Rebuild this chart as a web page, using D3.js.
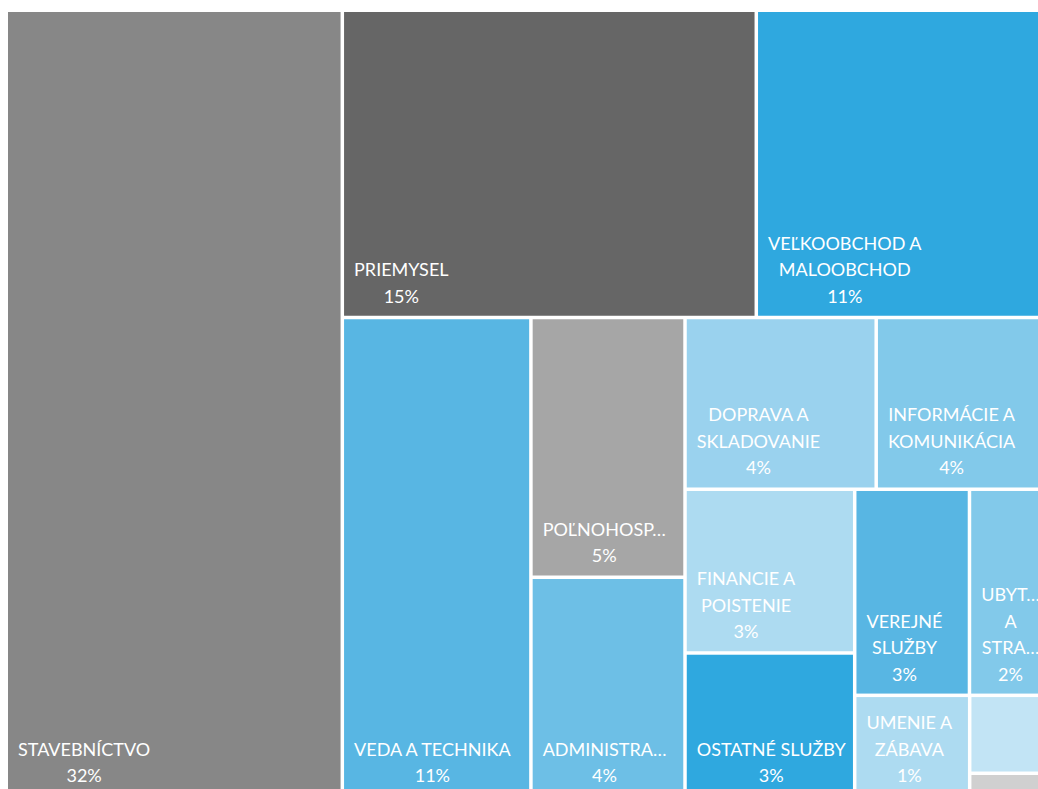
<!DOCTYPE html>
<html>
<head>
<meta charset="utf-8">
<script src="https://cdn.jsdelivr.net/npm/d3@7"></script>
<style>
  body { margin: 0; background: #fff; }
  svg { display: block; }
  text { font-family: Lato, "Open Sans", sans-serif; font-size: 18px; fill: #fff; }
</style>
</head>
<body>
<svg width="1038" height="789"></svg>
<script>
var sectors = ['STAVEBNÍCTVO', 'PRIEMYSEL', 'VEĽKOOBCHOD A MALOOBCHOD', 'VEDA A TECHNIKA',
	'POĽNOHOSPODÁRSTVO', 'ADMINISTRATÍVA', 'DOPRAVA A SKLADOVANIE', 'INFORMÁCIE A KOMUNIKÁCIA',
	'FINANCIE A POISTENIE', 'OSTATNÉ SLUŽBY', 'VEREJNÉ SLUŽBY', 'UBYTOVANIE A STRAVOVANIE',
	'UMENIE A ZÁBAVA', 'VZDELÁVANIE', 'NEUVEDENÉ'],
	counts = [3196, 1538, 1120, 1093, 484, 409, 397, 377, 336, 295, 286, 220, 141, 83, 25],
	colors = ['#878787', '#666666', '#2fa8df', '#58b6e3', '#a6a6a6', '#6dbfe6', '#9ad2ee', '#82c9ea',
		'#addbf1', '#2fa8df', '#58b6e3', '#82c9ea', '#addbf1', '#c2e4f5', '#d0d0d0'];

// how many tiles go in each strip (excel packs them this way)
var strips = [1, 2, 1, 2, 2, 2, 2, 1, 1, 1];

var svg = d3.select('svg'),
	width = 1048, height = 783;

function stripTile(parent, x0, y0, x1, y1) {
	var nodes = parent.children, value = parent.value, i = 0, s = 0;
	while (i < nodes.length) {
		var n = strips[s++] || nodes.length - i,
			row = {children: nodes.slice(i, i + n)};
		row.value = d3.sum(row.children, function(d){ return d.value; });
		if (x1 - x0 < y1 - y0) {
			var y = y0 + (y1 - y0) * row.value / value;
			d3.treemapDice(row, x0, y0, x1, y);
			y0 = y;
		} else {
			var x = x0 + (x1 - x0) * row.value / value;
			d3.treemapSlice(row, x0, y0, x, y1);
			x0 = x;
		}
		value -= row.value;
		i += n;
	}
}

var data = sectors.map(function(d, i){ return {name: d, value: counts[i], color: colors[i]}; }),
	total = d3.sum(counts);

var root = d3.hierarchy({children: data}).sum(function(d){ return d.value || 0; });
d3.treemap().tile(stripTile).size([width, height]).paddingInner(3.5)(root);

var g = svg.append('g').attr('transform', 'translate(8,12)');

var cell = g.selectAll('g.cell')
	.data(root.leaves())
	.join('g')
	.attr('class', 'cell');

cell.append('rect')
	.attr('x', function(d){ return d.x0; })
	.attr('y', function(d){ return d.y0; })
	.attr('width', function(d){ return d.x1 - d.x0; })
	.attr('height', function(d){ return d.y1 - d.y0; })
	.attr('fill', function(d){ return d.data.color; });

var pad = 10, lineH = 26.5;

cell.each(function(d){
	var share = d.value / total;
	if (share < 0.01) return;
	var el = d3.select(this),
		cutW = d.x1 - d.x0 - 2 * pad,
		wrapW = cutW + 6,
		probe = el.append('text');
	function w(str){ probe.text(str); return probe.node().getComputedTextLength(); }
	function cut(word){
		if (w(word) <= cutW) return word;
		var k = word.length;
		while (k > 1 && w(word.slice(0, k) + '…') > cutW) k--;
		return word.slice(0, k) + '…';
	}
	var words = d.data.name.split(' '), lines = [], cur = '';
	words.forEach(function(word){
		var test = cur ? cur + ' ' + word : word;
		if (cur && w(test) > wrapW) { lines.push(cut(cur)); cur = word; }
		else cur = test;
	});
	if (cur) lines.push(cur.indexOf(' ') < 0 ? cut(cur) : cur);
	lines.push(Math.round(share * 100) + '%');
	var blockW = d3.max(lines, w);
	probe.remove();
	var cx = d.x0 + pad + blockW / 2,
		base = d.y1 - 13;
	el.selectAll('text.lbl')
		.data(lines)
		.join('text')
		.attr('class', 'lbl')
		.attr('x', cx)
		.attr('y', function(t, i){ return base - (lines.length - 1 - i) * lineH; })
		.attr('text-anchor', 'middle')
		.text(function(t){ return t; });
});
</script>
</body>
</html>
